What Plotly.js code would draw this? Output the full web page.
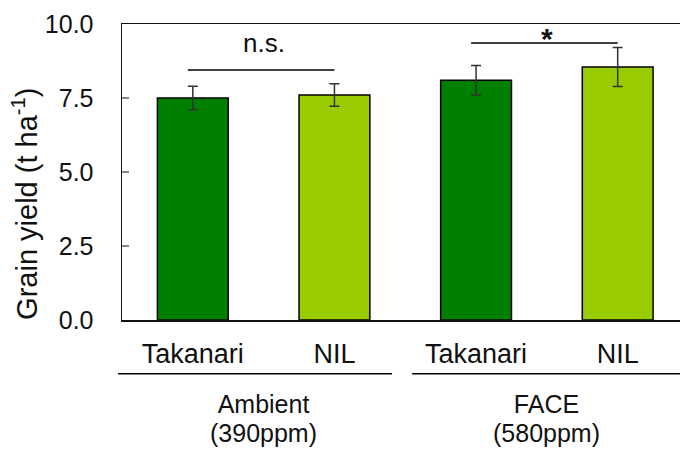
<!DOCTYPE html>
<html>
<head>
<meta charset="utf-8">
<script src="https://cdn.plot.ly/plotly-3.0.1.min.js"></script>
<style>html,body{margin:0;padding:0;background:#fff;overflow:hidden}#chart{width:680px;height:450px}</style>
</head>
<body>
<div id="chart"></div>
<script>
const categories = ["Takanari", "NIL", "Takanari", "NIL"];
const positions = [0, 1, 2, 3];
const grainYield = [7.5, 7.6, 8.1, 8.55];
const yieldError = [0.4, 0.38, 0.5, 0.66];
const barColors = ["#008000", "#99CC00", "#008000", "#99CC00"];
const groupNames = ["Ambient", "FACE"];
const groupCO2 = ["(390ppm)", "(580ppm)"];
const groupCenters = [0.5, 2.5];
const sigLabels = ["n.s.", "*"];
const sigPairs = [[0, 1], [2, 3]];
const sigLevels = [8.45, 9.36];
const yTicks = [0, 2.5, 5, 7.5, 10];
const yTickText = ["0.0", "2.5", "5.0", "7.5", "10.0"];
const yTitle = "Grain yield (t ha<sup>-1</sup>)";

const FONT = "Liberation Sans, Arial, sans-serif";

const trace = {
  type: "bar",
  x: positions,
  y: grainYield,
  width: 0.5,
  marker: {color: barColors, line: {color: "#000", width: 1.5}},
  error_y: {type: "data", array: yieldError, visible: true, color: "#333", thickness: 1.5, width: 5},
  hoverinfo: "skip"
};

const shapes = [];
const annotations = [];
sigPairs.forEach((p, i) => {
  shapes.push({type: "line", xref: "x", yref: "y", x0: p[0] - 0.035, x1: p[1], y0: sigLevels[i], y1: sigLevels[i], line: {color: "#000", width: 1.5}});
});
annotations.push({xref: "x", yref: "y", x: 0.5, y: sigLevels[0], yshift: 10, text: sigLabels[0], showarrow: false, yanchor: "bottom", font: {family: FONT, size: 26, color: "#111"}});
annotations.push({xref: "x", yref: "y", x: 2.5, y: sigLevels[1], yshift: -14, text: "<b>" + sigLabels[1] + "</b>", showarrow: false, yanchor: "bottom", font: {family: FONT, size: 30, color: "#111"}});
// group underlines
shapes.push({type: "line", xref: "paper", yref: "paper", x0: -0.007, x1: 0.484, y0: -0.182, y1: -0.182, line: {color: "#000", width: 1.5}});
shapes.push({type: "line", xref: "paper", yref: "paper", x0: 0.520, x1: 1.0, y0: -0.182, y1: -0.182, line: {color: "#000", width: 1.5}});
const big = s => '<span style="font-size:25px">' + s + '</span>';
groupNames.forEach((g, i) => {
  annotations.push({xref: "x", yref: "paper", x: groupCenters[i], y: -0.334, yanchor: "middle", text: big(g) + "<br>" + big(groupCO2[i]), showarrow: false, font: {family: FONT, size: 22.3, color: "#111"}});
});
// y axis title
annotations.push({xref: "paper", yref: "paper", x: -0.174, y: 0.392, xanchor: "center", yanchor: "middle", textangle: -90, text: yTitle, showarrow: false, font: {family: FONT, size: 29, color: "#111"}});

const layout = {
  width: 680, height: 450,
  margin: {l: 122, r: 0, t: 24, b: 130},
  paper_bgcolor: "#fff", plot_bgcolor: "#fff",
  showlegend: false,
  font: {family: FONT, size: 24, color: "#111"},
  xaxis: {
    range: [-0.5, 3.44],
    tickvals: positions, ticktext: categories,
    showline: true, mirror: true, linecolor: "#111", linewidth: 1.5,
    ticks: "", showgrid: false, zeroline: false,
    ticklabelstandoff: 9,
    tickfont: {family: FONT, size: 27, color: "#111"}
  },
  yaxis: {
    range: [0, 10],
    tickvals: yTicks, ticktext: yTickText,
    showline: true, linecolor: "#111", linewidth: 1.5,
    ticks: "inside", ticklen: 7, tickcolor: "#888", tickwidth: 1.5,
    showgrid: false, zeroline: false,
    ticklabelstandoff: 22,
    tickfont: {family: FONT, size: 25, color: "#111"}
  },
  shapes: shapes,
  annotations: annotations
};

Plotly.newPlot("chart", [trace], layout, {displayModeBar: false, staticPlot: true});
</script>
</body>
</html>
